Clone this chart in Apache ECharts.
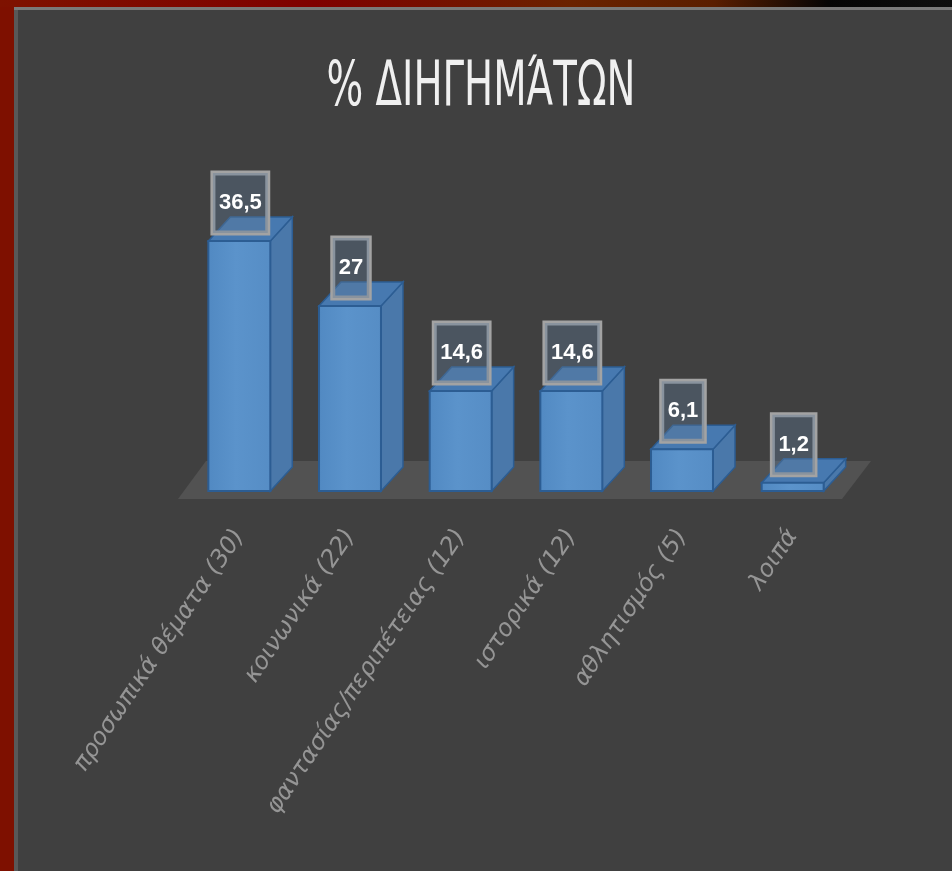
<!DOCTYPE html>
<html>
<head>
<meta charset="utf-8">
<script src="https://cdn.jsdelivr.net/npm/echarts@6/dist/echarts.min.js"></script>
<style>
  html, body { margin: 0; padding: 0; background: #404040; }
  #chart { width: 952px; height: 871px; }
</style>
</head>
<body>
<div id="chart"></div>
<script>
// % ΔΙΗΓΗΜΆΤΩΝ - 3d-ish bar chart
const categories = [
  "προσωπικά θέματα (30)",
  "κοινωνικά (22)",
  "φαντασίας/περιπέτειας (12)",
  "ιστορικά (12)",
  "αθλητισμός (5)",
  "λοιπά",
];
const percentages = [36.5, 27, 14.6, 14.6, 6.1, 1.2];
const titleText = "% ΔΙΗΓΗΜΆΤΩΝ";

const chart = echarts.init(document.getElementById("chart"));

const depthX = 22;
const depthY = -24;

const renderBar = (params, api) => {
  const idx = api.value(0);
  const val = api.value(1);
  const base = api.coord([idx, 0]);
  const top = api.coord([idx, val]);
  const band = api.size([1, 0])[0];
  const w = band * 0.56;
  const x0 = base[0] - w / 2;
  const x1 = base[0] + w / 2;
  const yb = base[1];
  const yt = top[1];
  const edge = "#2c5d93";

  return {
    type: "group",
    children: [
      {
        type: "polygon",
        shape: { points: [[x1, yt], [x1 + depthX, yt + depthY], [x1 + depthX, yb + depthY], [x1, yb]] },
        style: { fill: "#4a78aa", stroke: edge, lineWidth: 1.5 },
      },
      {
        type: "polygon",
        shape: { points: [[x0, yt], [x0 + depthX, yt + depthY], [x1 + depthX, yt + depthY], [x1, yt]] },
        style: { fill: "#4779b0", stroke: edge, lineWidth: 1.5 },
      },
      {
        type: "rect",
        shape: { x: x0, y: yt, width: w, height: yb - yt },
        style: {
          fill: new echarts.graphic.LinearGradient(0, 0, 1, 0, [
            { offset: 0, color: "#5189c2" },
            { offset: 0.45, color: "#5b93cb" },
            { offset: 1, color: "#568dc5" },
          ]),
          stroke: edge,
          lineWidth: 2,
        },
      },
      {
        type: "text",
        x: base[0] + 1,
        y: yt - 8,
        style: {
          text: String(val).replace(".", ","),
          fill: "#ffffff",
          font: 'bold 22px "Liberation Sans", Arial, sans-serif',
          align: "center",
          verticalAlign: "bottom",
          backgroundColor: "rgba(95,120,150,0.38)",
          borderColor: "#a3a3a3",
          borderWidth: 2.5,
          padding: [19, 6],
        },
      },
    ],
  };
};

const renderFloor = (params, api) => {
  const band = api.size([1, 0])[0];
  const first = api.coord([0, 0]);
  const last = api.coord([categories.length - 1, 0]);
  const left = first[0] - band / 2;
  const right = last[0] + band / 2;
  const y = first[1];
  return {
    type: "polygon",
    shape: {
      points: [
        [left - 6, y + 8],
        [right - 6, y + 8],
        [right + 23, y - 30],
        [left + 22, y - 30],
      ],
    },
    style: { fill: "#525252" },
  };
};

const option = {
  backgroundColor: "#404040",
  animation: false,
  graphic: [
    { type: "rect", left: 0, top: 0, shape: { width: 14, height: 871 }, style: { fill: "#7e1000" } },
    {
      type: "rect",
      left: 0,
      top: 0,
      shape: { width: 952, height: 7 },
      style: {
        fill: new echarts.graphic.LinearGradient(0, 0, 1, 0, [
          { offset: 0, color: "#7e1200" },
          { offset: 0.33, color: "#7f0000" },
          { offset: 0.6, color: "#6a2200" },
          { offset: 0.75, color: "#5a1e00" },
          { offset: 0.87, color: "#050505" },
          { offset: 1, color: "#0e0e0e" },
        ]),
      },
    },
    { type: "rect", left: 14, top: 7, shape: { width: 938, height: 3 }, style: { fill: "#7a7a7a" } },
    { type: "rect", left: 14, top: 10, shape: { width: 4, height: 861 }, style: { fill: "#585858" } },
    {
      type: "text",
      x: 481,
      y: 58,
      scaleY: 1.45,
      style: {
        text: titleText,
        fill: "#f0f0f0",
        font: '43px "Liberation Sans Narrow", "DejaVu Sans Condensed", sans-serif',
        align: "center",
        verticalAlign: "top",
      },
    },
  ],
  grid: { left: 184, right: 104, top: 217, bottom: 380 },
  xAxis: {
    type: "category",
    data: categories,
    axisLine: { show: false },
    axisTick: { show: false },
    axisLabel: {
      interval: 0,
      rotate: 56,
      margin: 41,
      color: "#959595",
      fontSize: 24,
      fontStyle: "italic",
      fontFamily: "DejaVu Sans",
    },
  },
  yAxis: {
    type: "value",
    min: 0,
    max: 40,
    show: false,
    splitLine: { show: false },
  },
  series: [
    {
      type: "custom",
      z: 1,
      clip: false,
      silent: true,
      renderItem: renderFloor,
      data: [[0, 0]],
    },
    {
      type: "custom",
      z: 2,
      clip: false,
      renderItem: renderBar,
      data: percentages.map((v, i) => [i, v]),
    },
  ],
};

chart.setOption(option);
</script>
</body>
</html>
